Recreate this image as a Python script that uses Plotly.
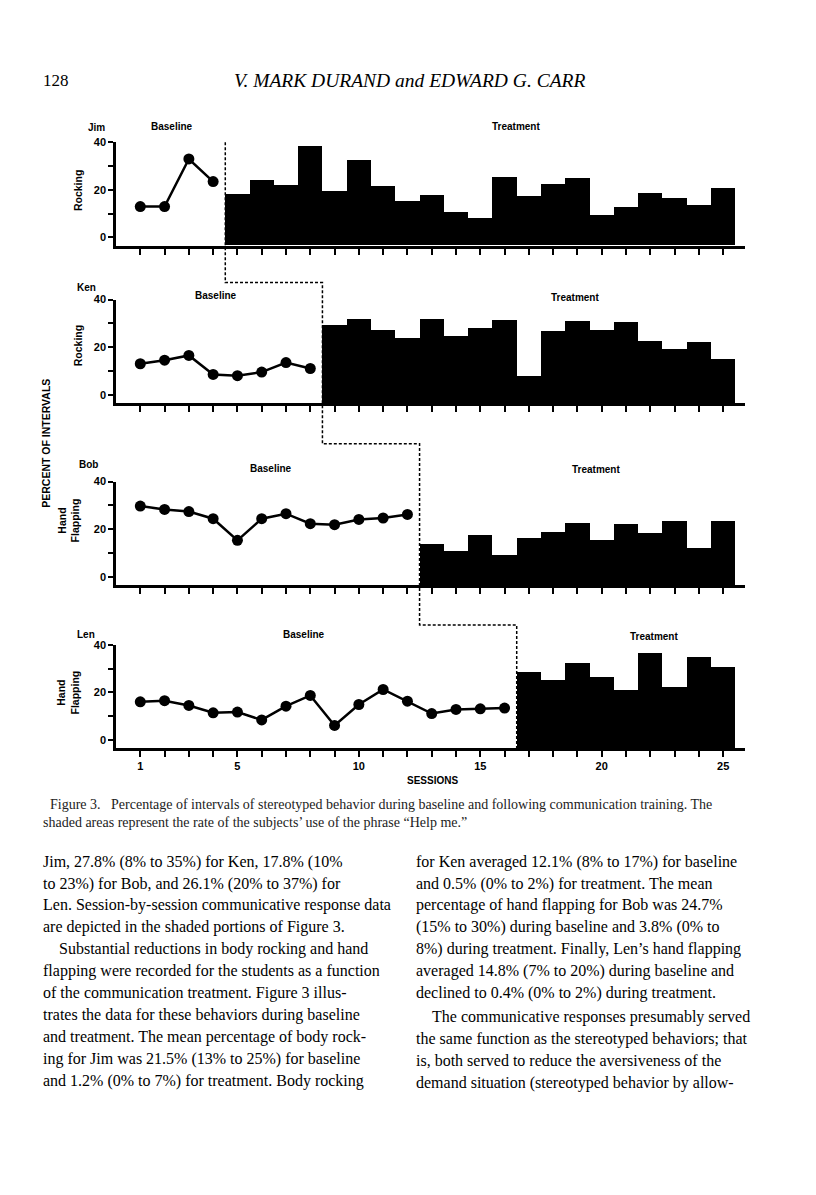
import plotly.graph_objects as go

W, H = 816, 1195

# data (percent of intervals per session)
SUBJECTS = ["Jim", "Ken", "Bob", "Len"]
BEHAVIOR = ["Rocking", "Rocking", "Hand<br>Flapping", "Hand<br>Flapping"]

jim_baseline = [13, 13, 33, 23.5]
jim_treatment = [18.2, 23.9, 22.1, 38.5, 19.6, 32.6, 21.4, 15.1, 17.9, 10.6, 8.0,
                 25.3, 17.5, 22.2, 25.0, 9.4, 12.6, 18.5, 16.6, 13.4, 20.8]

ken_baseline = [13, 14.5, 16.5, 8.5, 8, 9.5, 13.5, 11]
ken_treatment = [29.5, 32.2, 27.4, 24.1, 31.9, 25.0, 28.1, 31.5, 8.1, 26.8, 31.2,
                 27.2, 30.9, 22.8, 19.4, 22.3, 15.2]

bob_baseline = [29.7, 28.3, 27.4, 24.4, 15.3, 24.4, 26.5, 22.3, 21.9, 24.1, 24.7, 26.2]
bob_treatment = [13.9, 11.0, 17.8, 9.2, 16.3, 19.1, 22.6, 15.6, 22.3, 18.5, 23.8, 12.3, 23.7]

len_baseline = [16, 16.5, 14.5, 11.4, 11.7, 8.4, 14.2, 18.7, 6.1, 14.9, 21.2, 16.3,
                11.1, 12.8, 13.1, 13.4]
len_treatment = [28.8, 25.3, 32.6, 26.4, 21.2, 36.5, 22.3, 34.8, 30.6]

BASELINES = [jim_baseline, ken_baseline, bob_baseline, len_baseline]
TREATMENTS = [jim_treatment, ken_treatment, bob_treatment, len_treatment]

SESSIONS = list(range(1, 26))
SESSION_LABELS = ["1", "", "", "", "5", "", "", "", "", "10", "", "", "", "", "15",
                  "", "", "", "", "20", "", "", "", "", "25"]
Y_TICKS = [0, 10, 20, 30, 40]
Y_LABELS = ["0", "", "20", "", "40"]

# page text
HEADER_PAGE = "128"
HEADER_TITLE = "V. MARK DURAND <i>and</i> EDWARD G. CARR"
CAPTION = [
    "&nbsp;&nbsp;Figure 3.&nbsp;&nbsp; Percentage of intervals of stereotyped behavior during baseline and following communication training. The",
    "shaded areas represent the rate of the subjects\u2019 use of the phrase \u201cHelp me.\u201d",
]
LEFT_COL = [
    "Jim, 27.8% (8% to 35%) for Ken, 17.8% (10%",
    "to 23%) for Bob, and 26.1% (20% to 37%) for",
    "Len. Session-by-session communicative response data",
    "are depicted in the shaded portions of Figure 3.",
    "&nbsp;&nbsp;&nbsp;&nbsp;Substantial reductions in body rocking and hand",
    "flapping were recorded for the students as a function",
    "of the communication treatment. Figure 3 illus-",
    "trates the data for these behaviors during baseline",
    "and treatment. The mean percentage of body rock-",
    "ing for Jim was 21.5% (13% to 25%) for baseline",
    "and 1.2% (0% to 7%) for treatment. Body rocking",
]
RIGHT_COL = [
    "for Ken averaged 12.1% (8% to 17%) for baseline",
    "and 0.5% (0% to 2%) for treatment. The mean",
    "percentage of hand flapping for Bob was 24.7%",
    "(15% to 30%) during baseline and 3.8% (0% to",
    "8%) during treatment. Finally, Len\u2019s hand flapping",
    "averaged 14.8% (7% to 20%) during baseline and",
    "declined to 0.4% (0% to 2%) during treatment.",
    "&nbsp;&nbsp;&nbsp;&nbsp;The communicative responses presumably served",
    "the same function as the stereotyped behaviors; that",
    "is, both served to reduce the aversiveness of the",
    "demand situation (stereotyped behavior by allow-",
]


def px(x):
    return x / W


def py(y):
    return 1 - y / H


def label(x, y, text, size, family="Liberation Sans", xanchor="center", angle=0, color="black"):
    return dict(x=px(x), y=py(y), xref="paper", yref="paper", text=text,
                xanchor=xanchor, yanchor="middle", textangle=angle, showarrow=False,
                font=dict(family=family, size=size, color=color))


SANS = "Liberation Sans"
SERIF = "Liberation Serif"
Y_MIN, Y_MAX = -3.5, 40
X_MIN, X_MAX = 0, 25.9
PANEL_TOP = [137, 295, 478, 642]
PANEL_H = 104
AX_LEFT, AX_RIGHT = 116, 745

fig = go.Figure()
annotations = []

for i in range(4):
    n = "" if i == 0 else str(i + 1)
    xa, ya = "x" + n, "y" + n
    base = BASELINES[i]
    treat = TREATMENTS[i]
    start = len(base) + 1
    fig.add_trace(go.Bar(
        x=list(range(start, start + len(treat))), y=[v - Y_MIN for v in treat], base=Y_MIN,
        width=1, marker=dict(color="black", line=dict(width=0)),
        xaxis=xa, yaxis=ya, showlegend=False,
    ))
    fig.add_trace(go.Scatter(
        x=list(range(1, len(base) + 1)), y=base, mode="lines+markers",
        line=dict(color="black", width=2.5),
        marker=dict(color="black", size=11),
        xaxis=xa, yaxis=ya, showlegend=False,
    ))
    top = PANEL_TOP[i]
    fig.update_layout({
        "xaxis" + n: dict(
            domain=[px(AX_LEFT), px(AX_RIGHT)], range=[X_MIN, X_MAX], anchor=ya,
            tickvals=SESSIONS, ticktext=SESSION_LABELS, showticklabels=(i == 3),
            ticks="outside", ticklen=6, tickwidth=2, tickcolor="black",
            showline=True, linewidth=2.5, linecolor="black",
            showgrid=False, zeroline=False,
            tickfont=dict(family=SANS, size=11, color="black", weight="bold"),
        ),
        "yaxis" + n: dict(
            domain=[py(top + PANEL_H), py(top)], range=[Y_MIN, Y_MAX], anchor=xa,
            tickvals=Y_TICKS, ticktext=Y_LABELS,
            ticks="outside", ticklen=5, tickwidth=2, tickcolor="black",
            showline=True, linewidth=2.5, linecolor="black",
            showgrid=False, zeroline=False,
            tickfont=dict(family=SANS, size=11, color="black", weight="bold"),
        ),
    })

# panel labels
LABEL_POS = [
    [(96, 122), (172, 121), (516, 121)],
    [(86, 283), (216, 291), (575, 293)],
    [(88, 461), (271, 465), (596, 466)],
    [(86, 632), (304, 632), (654, 634)],
]
YTITLE_POS = [(78, 186), (78, 342), (69, 517), (68, 690)]
for i in range(4):
    (sx, sy), (bx, by), (tx, ty) = LABEL_POS[i]
    annotations.append(label(sx, sy, "<b>" + SUBJECTS[i] + "</b>", 10))
    annotations.append(label(bx, by, "<b>Baseline</b>", 10))
    annotations.append(label(tx, ty, "<b>Treatment</b>", 10))
    x, y = YTITLE_POS[i]
    annotations.append(label(x, y, "<b>" + BEHAVIOR[i] + "</b>", 10.5, angle=-90))

annotations.append(label(46, 440, "<b>PERCENT OF INTERVALS</b>", 10.5, angle=-90))
annotations.append(label(432, 778, "<b>SESSIONS</b>", 10))

# phase change line, stepping down across the panels
phase = [len(b) + 0.5 for b in BASELINES]
step_y = [137, 278, 440, 622, 746]
path = "M {},{} ".format(phase[0], py(step_y[0]))
for k in range(4):
    path += "L {},{} ".format(phase[k], py(step_y[k + 1]))
    if k < 3:
        path += "L {},{} ".format(phase[k + 1], py(step_y[k + 1]))
fig.add_shape(type="path", path=path, xref="x", yref="paper",
              line=dict(color="black", width=1.5, dash="3px,2px"))

# page header, caption and body text
annotations.append(label(41, 75, HEADER_PAGE, 17, family=SERIF, xanchor="left"))
annotations.append(label(409, 75, "<i>" + HEADER_TITLE + "</i>", 19.5, family=SERIF))
for k, line in enumerate(CAPTION):
    annotations.append(label(41, 803 + 18 * k, line, 14, family=SERIF, xanchor="left", color="#222"))
for k, line in enumerate(LEFT_COL):
    annotations.append(label(41, 860 + 22 * k, line, 16, family=SERIF, xanchor="left"))
for k, line in enumerate(RIGHT_COL):
    extra = 2 if k >= 7 else 0
    annotations.append(label(414, 860 + 22 * k + extra, line, 16, family=SERIF, xanchor="left"))

fig.update_layout(
    width=W, height=H,
    margin=dict(l=0, r=0, t=0, b=0),
    paper_bgcolor="white", plot_bgcolor="rgba(0,0,0,0)",
    bargap=0, annotations=annotations,
)

fig.write_html("out.html", config={"displayModeBar": False},
               post_script="document.body.style.margin='0';")
